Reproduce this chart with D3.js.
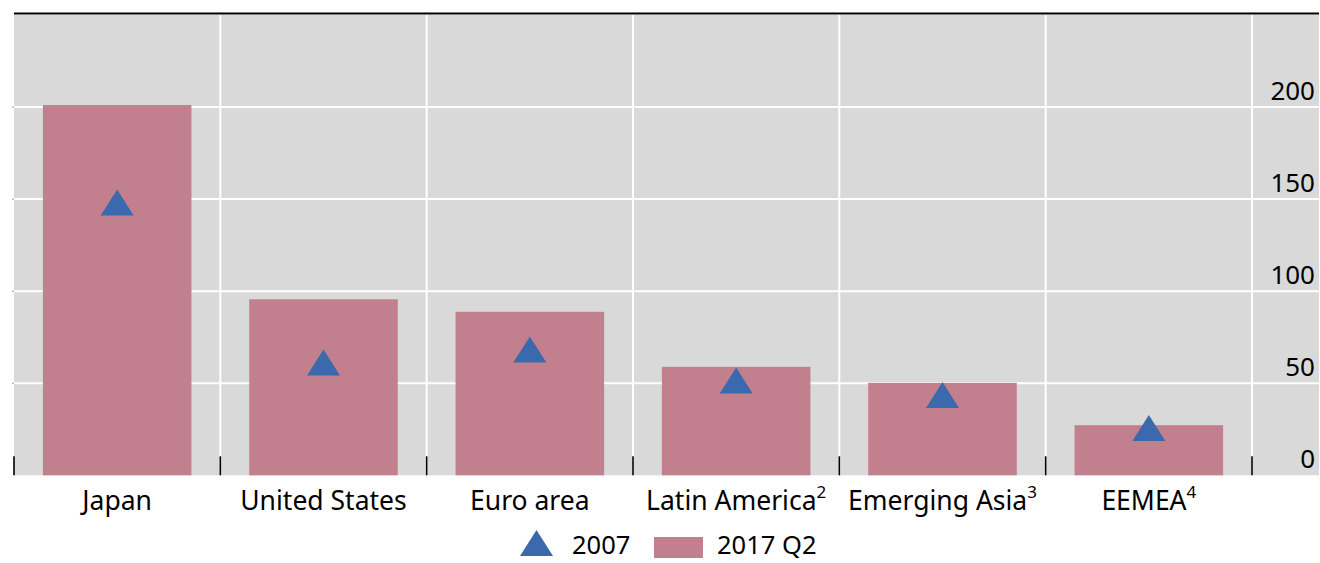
<!DOCTYPE html>
<html><head><meta charset="utf-8">
<script src="https://cdn.jsdelivr.net/npm/d3@7"></script>
<style>
body{margin:0;background:#fff;}
svg{display:block;font-family:"Noto Sans","Open Sans",sans-serif;}
</style></head>
<body>
<svg id="chart" width="1320" height="563"></svg>
<script>
const categories = ["Japan","United States","Euro area","Latin America","Emerging Asia","EEMEA"];
const superscripts = ["","","","2","3","4"];
const values2017Q2 = [201.1, 95.6, 88.8, 58.9, 50.2, 27.2];
const values2007 = [148.1, 61.3, 68.3, 51.5, 43.6, 25.7];
const yTicks = [0, 50, 100, 150, 200];
const seriesNames = ["2007", "2017 Q2"];

const W = 1320, H = 563;
const plotLeft = 14, plotRight = 1319, catRight = 1252, plotTop = 15, plotBottom = 475.3;
const pink = "#c27f8e", blue = "#3a6aad", grey = "#d9d9d9";

const svg = d3.select("#chart");
const x = d3.scaleBand().domain(categories).range([plotLeft, catRight]).paddingInner(0.28).paddingOuter(0.14);
const y = d3.scaleLinear().domain([0, 250]).range([plotBottom, plotTop]);

// background
svg.append("rect").attr("x", plotLeft).attr("y", plotTop).attr("width", plotRight - plotLeft).attr("height", plotBottom - plotTop).attr("fill", grey);
// top border
svg.append("line").attr("x1", plotLeft).attr("x2", plotRight).attr("y1", 13.5).attr("y2", 13.5).attr("stroke", "#000").attr("stroke-width", 2);

// horizontal grid
svg.append("g").selectAll("line").data(yTicks.filter(d => d > 0)).join("line")
  .attr("x1", plotLeft).attr("x2", plotRight)
  .attr("y1", d => y(d)).attr("y2", d => y(d))
  .attr("stroke", "#fff").attr("stroke-width", 2);
// small left ticks
svg.append("g").selectAll("line").data(yTicks.filter(d => d > 0)).join("line")
  .attr("x1", plotLeft - 2).attr("x2", plotLeft)
  .attr("y1", d => y(d)).attr("y2", d => y(d))
  .attr("stroke", "#999").attr("stroke-width", 1);

// vertical grid at category boundaries
const step = x.step();
const boundaries = d3.range(categories.length + 1).map(i => plotLeft + i * step);
svg.append("g").selectAll("line").data(boundaries.slice(1)).join("line")
  .attr("x1", d => d).attr("x2", d => d)
  .attr("y1", plotTop).attr("y2", plotBottom)
  .attr("stroke", "#fff").attr("stroke-width", 2);

// bars
svg.append("g").selectAll("rect").data(categories).join("rect")
  .attr("x", d => x(d)).attr("width", x.bandwidth())
  .attr("y", (d, i) => y(values2017Q2[i]))
  .attr("height", (d, i) => y(0) - y(values2017Q2[i]))
  .attr("fill", pink);

// bottom ticks
svg.append("g").selectAll("line").data(boundaries).join("line")
  .attr("x1", d => d).attr("x2", d => d)
  .attr("y1", plotBottom - 19).attr("y2", plotBottom)
  .attr("stroke", "#000").attr("stroke-width", 1.6);

// triangles
const tri = (cx, cy) => `M${cx},${cy - 13}L${cx + 16.5},${cy + 13}L${cx - 16.5},${cy + 13}Z`;
svg.append("g").selectAll("path").data(categories).join("path")
  .attr("d", (d, i) => tri(x(d) + x.bandwidth() / 2, y(values2007[i])))
  .attr("fill", blue);

// y labels
svg.append("g").selectAll("text").data(yTicks).join("text")
  .attr("x", 1315).attr("y", d => y(d) - 7)
  .attr("text-anchor", "end").attr("font-size", 26).attr("fill", "#000")
  .text(d => d);

// x labels
const xl = svg.append("g").selectAll("text").data(categories).join("text")
  .attr("x", d => x(d) + x.bandwidth() / 2).attr("y", 510)
  .attr("text-anchor", "middle").attr("font-size", 26.5).attr("fill", "#000");
xl.append("tspan").text(d => d);
xl.append("tspan").attr("font-size", 17).attr("dy", -12).text((d, i) => superscripts[i]);

// legend
const lg = svg.append("g");
lg.append("path").attr("d", tri(536.5, 543)).attr("fill", blue);
lg.append("text").attr("x", 572).attr("y", 554).attr("font-size", 25.5).text(seriesNames[0]);
lg.append("rect").attr("x", 654).attr("y", 537).attr("width", 49).attr("height", 21).attr("fill", pink);
lg.append("text").attr("x", 717).attr("y", 554).attr("font-size", 25.5).text(seriesNames[1]);
</script>
</body></html>
